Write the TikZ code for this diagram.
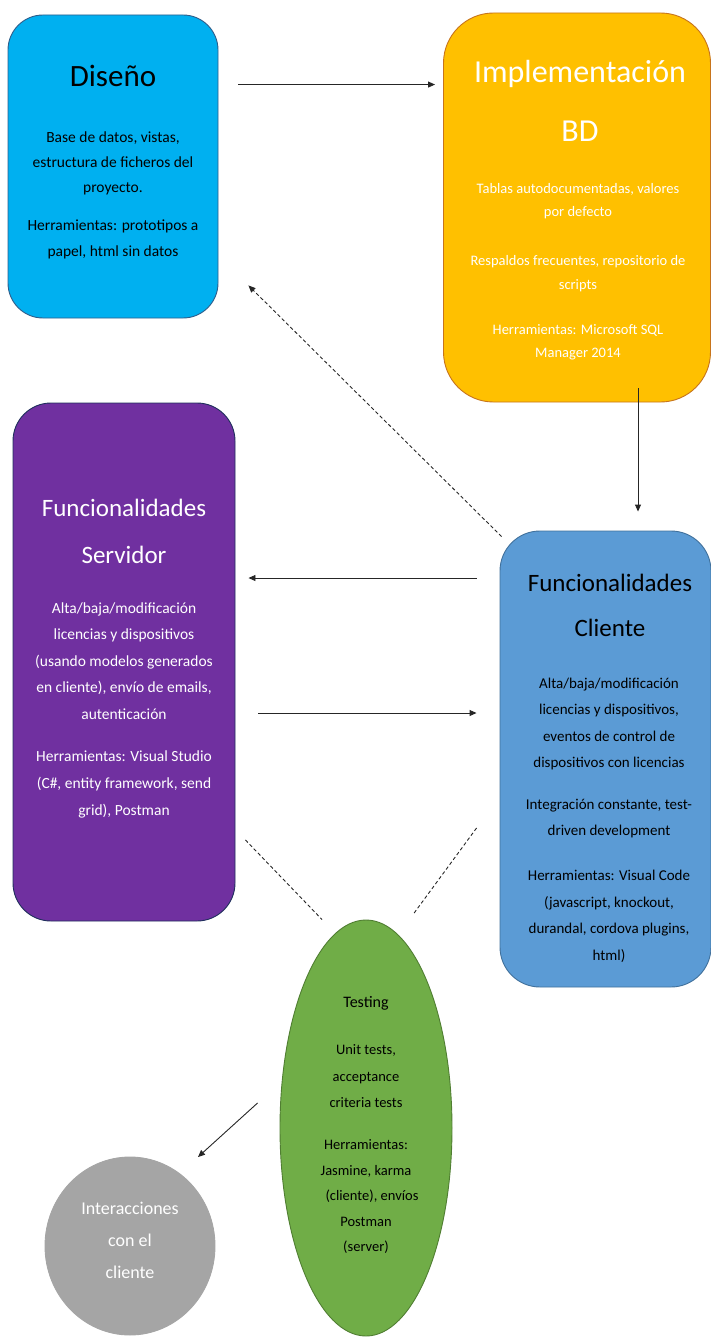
\documentclass[tikz,border=0pt]{standalone}
\usepackage{fontspec}
\setmainfont{Carlito}
\usetikzlibrary{arrows.meta,calc,shapes.geometric}
\definecolor{cdis}{HTML}{00B0F0}
\definecolor{cdisb}{HTML}{2F5D8A}
\definecolor{cimp}{HTML}{FFC000}
\definecolor{cimpb}{HTML}{C7741C}
\definecolor{csrv}{HTML}{7030A0}
\definecolor{csrvb}{HTML}{1F2F5C}
\definecolor{ccli}{HTML}{5B9BD5}
\definecolor{cclib}{HTML}{41719C}
\definecolor{ctst}{HTML}{70AD47}
\definecolor{ctstb}{HTML}{507E32}
\definecolor{cint}{HTML}{A5A5A5}
\begin{document}
\begin{tikzpicture}[x=1pt,y=-1pt,
  shapebox/.style={draw, line width=0.9pt, inner sep=0pt},
  txt/.style={align=center, inner sep=0pt},
  arr/.style={line width=0.9pt, black!85, -{Triangle[length=7pt,width=6pt]}},
  darr/.style={arr, dash pattern=on 3.5pt off 2.5pt},
  dline/.style={line width=0.9pt, black!85, dash pattern=on 3.5pt off 2.5pt},
  ttl/.style={txt, anchor=base, font=\fontsize{31}{40}\selectfont},
  ttlb/.style={txt, anchor=base, font=\fontsize{25}{30}\selectfont}]
\useasboundingbox (0,0) rectangle (711,1337);

% shapes
\node[shapebox, fill=cdis, draw=cdisb, rounded corners=35pt, minimum width=210, minimum height=303] (dis) at (113,166.5) {};
\node[shapebox, fill=cimp, draw=cimpb, rounded corners=50pt, minimum width=267, minimum height=389] (imp) at (577,207.5) {};
\node[shapebox, fill=csrv, draw=csrvb, rounded corners=38pt, minimum width=222, minimum height=518] (srv) at (124,662) {};
\node[shapebox, fill=ccli, draw=cclib, rounded corners=40pt, minimum width=211, minimum height=456] (cli) at (605.5,759) {};
\node[shapebox, ellipse, fill=ctst, draw=ctstb, minimum width=172, minimum height=416] (tst) at (366,1128) {};
\node[shapebox, ellipse, fill=cint, draw=cint, minimum width=170, minimum height=178] (int) at (130,1246) {};

% Diseño texts
\node[ttl] (dis-t) at (113,87) {Diseño};
\node[txt, font=\fontsize{15.5}{25}\selectfont] (dis-p1) at (113,163) {Base de datos, vistas,\\estructura de ficheros del\\proyecto.};
\node[txt, font=\fontsize{15.5}{26}\selectfont] (dis-p2) at (113,239) {Herramientas: prototipos a\\papel, html sin datos};

% Implementación texts
\node[ttl, text=white, font=\fontsize{32}{40}\selectfont] (imp-t1) at (580,83) {Implementación};
\node[ttl, text=white, font=\fontsize{32}{40}\selectfont] (imp-t2) at (580,142) {BD};
\node[txt, text=white, font=\fontsize{14.5}{23.5}\selectfont] (imp-p1) at (578,201) {Tablas autodocumentadas, valores\\por defecto};
\node[txt, text=white, font=\fontsize{14.5}{24}\selectfont] (imp-p2) at (578,274) {Respaldos frecuentes, repositorio de\\scripts};
\node[txt, text=white, font=\fontsize{14.5}{23}\selectfont] (imp-p3) at (578,342) {Herramientas: Microsoft SQL\\Manager 2014};

% Servidor texts
\node[ttlb, text=white] (srv-t1) at (124,516) {Funcionalidades};
\node[ttlb, text=white] (srv-t2) at (124,563) {Servidor};
\node[txt, text=white, font=\fontsize{15.5}{26.5}\selectfont] (srv-p1) at (124,661) {Alta/baja/modificación\\licencias y dispositivos\\(usando modelos generados\\en cliente), envío de emails,\\autenticación};
\node[txt, text=white, font=\fontsize{15.5}{27}\selectfont] (srv-p2) at (124,784) {Herramientas: Visual Studio\\(C\#, entity framework, send\\grid), Postman};

% Cliente texts
\node[ttlb] (cli-t1) at (610,591) {Funcionalidades};
\node[ttlb] (cli-t2) at (610,636) {Cliente};
\node[txt, font=\fontsize{15}{26.5}\selectfont] (cli-p1) at (609,724) {Alta/baja/modificación\\licencias y dispositivos,\\eventos de control de\\dispositivos con licencias};
\node[txt, font=\fontsize{15}{26}\selectfont] (cli-p2) at (609,819) {Integración constante, test-\\driven development};
\node[txt, font=\fontsize{15}{26.5}\selectfont] (cli-p3) at (609,916.5) {Herramientas: Visual Code\\(javascript, knockout,\\durandal, cordova plugins,\\html)};

% Testing texts
\node[txt, font=\fontsize{16}{25}\selectfont] (tst-t) at (366,1003) {Testing};
\node[txt, font=\fontsize{14.5}{26.5}\selectfont] (tst-p1) at (366,1076.5) {Unit tests,\\acceptance\\criteria tests};
\node[txt, font=\fontsize{14.5}{25.5}\selectfont] (tst-p2) at (366,1197) {Herramientas:\\Jasmine, karma\\\hspace*{12pt}(cliente), envíos\\Postman\\(server)};

% Interacciones text
\node[txt, text=white, font=\fontsize{18}{32}\selectfont] (int-t) at (130,1240) {Interacciones\\con el\\cliente};

% connectors
\draw[arr] ($(dis.north east)+(20,70)$) -- ($(imp.north west)+(-8,72)$);
\draw[arr] ($(imp.south)+(61,-14)$) -- ($(cli.north)+(32.5,-19)$);
\draw[darr] ($(cli.north west)+(2,6)$) -- ($(dis.south east)+(30,-33)$);
\draw[arr] ($(cli.west)+(-23,-181)$) -- ($(srv.east)+(13,-84)$);
\draw[arr] ($(srv.east)+(23,51)$) -- ($(cli.west)+(-23,-46)$);
\draw[dline] ($(srv.east)+(10,178)$) -- ($(tst.north)+(-44,0)$);
\draw[dline] ($(cli.west)+(-23,69)$) -- ($(tst.north)+(47,-5)$);
\draw[arr] ($(tst.west)+(-22,-25)$) -- ($(int.center)+(68,-89)$);
\end{tikzpicture}
\end{document}
